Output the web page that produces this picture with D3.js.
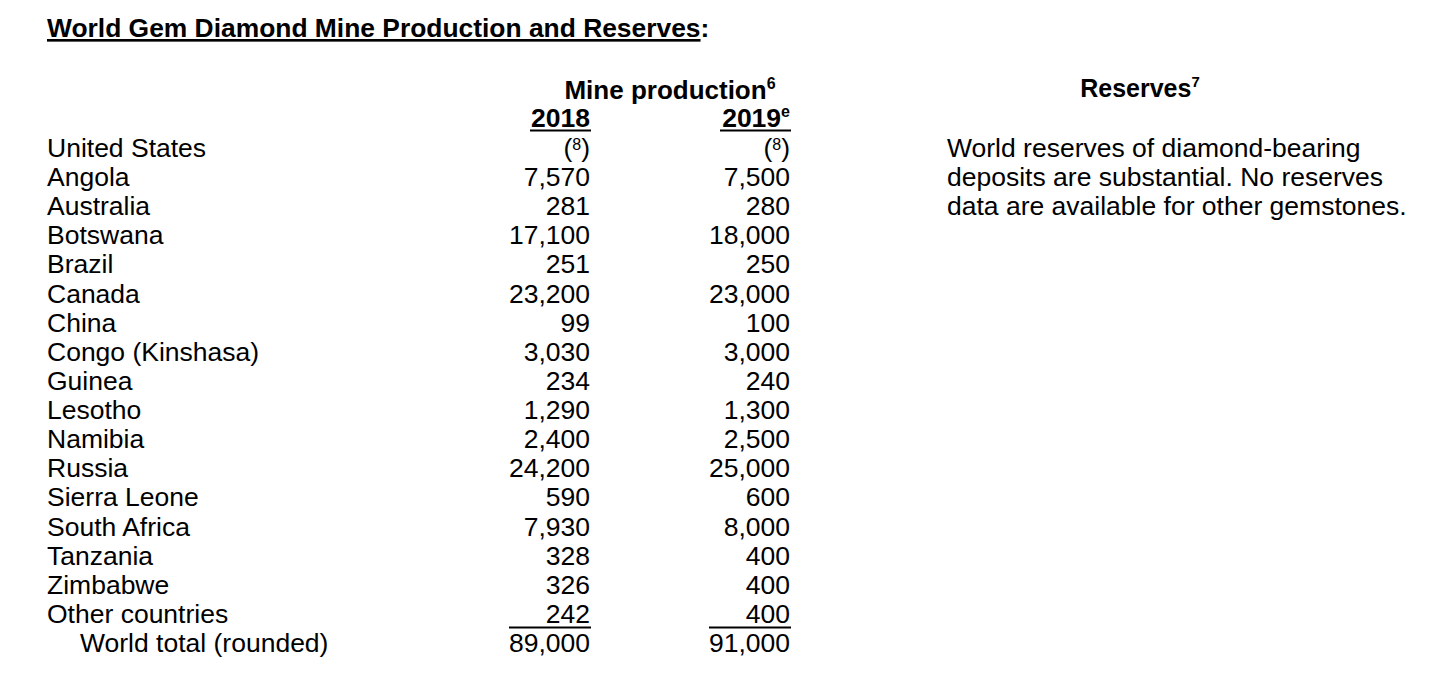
<!DOCTYPE html>
<html>
<head>
<meta charset="utf-8">
<script src="https://cdn.jsdelivr.net/npm/d3@7"></script>
<style>
  body { margin: 0; background: #fff; }
  text { font-family: "Liberation Sans", Arial, sans-serif; fill: #000; }
</style>
</head>
<body>
<div id="table"></div>
<script>
// table data
var countries = ["United States", "Angola", "Australia", "Botswana", "Brazil", "Canada", "China",
  "Congo (Kinshasa)", "Guinea", "Lesotho", "Namibia", "Russia", "Sierra Leone", "South Africa",
  "Tanzania", "Zimbabwe", "Other countries"];
// null = footnote (8), less than 1/2 unit
var prod2018 = [null, 7570, 281, 17100, 251, 23200, 99, 3030, 234, 1290, 2400, 24200, 590, 7930, 328, 326, 242];
var prod2019 = [null, 7500, 280, 18000, 250, 23000, 100, 3000, 240, 1300, 2500, 25000, 600, 8000, 400, 400, 400];
var totals = [89000, 91000];
var years = ["2018", "2019"];
var reservesText = ["World reserves of diamond-bearing",
  "deposits are substantial. No reserves",
  "data are available for other gemstones."];

var width = 1446, height = 686;
var fmt = d3.format(",");
var fs = "26.5px";

var svg = d3.select("#table").append("svg")
  .attr("width", width)
  .attr("height", height);

// rows: countries plus world total line
var rows = countries.concat(["World total (rounded)"]);
var y = d3.scalePoint().domain(rows).range([157, 652]);

// columns are right aligned
var x = d3.scaleOrdinal().domain(years).range([590, 790]);

// title
var title = svg.append("text")
  .attr("x", 47).attr("y", 37)
  .style("font-size", "26.4px").style("font-weight", "bold");
title.append("tspan").style("text-decoration", "underline")
  .text("World Gem Diamond Mine Production and Reserves");
title.append("tspan").text(":");

// header
var hdr = svg.append("text")
  .attr("x", 670).attr("y", 99)
  .attr("text-anchor", "middle")
  .style("font-size", "26px").style("font-weight", "bold");
hdr.append("tspan").text("Mine production");
hdr.append("tspan").attr("dy", -10).style("font-size", "16px").text("6");

years.forEach(function(yr, i) {
  var t = svg.append("text")
    .attr("x", x(yr)).attr("y", 127)
    .attr("text-anchor", "end")
    .style("font-size", "26.5px").style("font-weight", "bold");
  t.append("tspan").text(yr);
  if (i === 1) t.append("tspan").attr("dy", -10).style("font-size", "16px").text("e");
  svg.append("line")
    .attr("x1", x(yr) - (i === 1 ? 70 : 60)).attr("x2", x(yr) + 1)
    .attr("y1", 130.5).attr("y2", 130.5)
    .attr("stroke", "#000").attr("stroke-width", 2);
});

var res = svg.append("text")
  .attr("x", 1140).attr("y", 97)
  .attr("text-anchor", "middle")
  .style("font-size", "25px").style("font-weight", "bold");
res.append("tspan").text("Reserves");
res.append("tspan").attr("dy", -10).style("font-size", "15px").text("7");

// country labels
svg.selectAll(".label")
  .data(rows)
  .enter().append("text")
  .attr("class", "label")
  .attr("x", function(d, i) { return i === rows.length - 1 ? 80 : 47; })
  .attr("y", function(d) { return y(d); })
  .style("font-size", fs)
  .text(function(d) { return d; });

// value columns
[prod2018, prod2019].forEach(function(vals, j) {
  var col = svg.selectAll(".col" + j)
    .data(vals.concat([totals[j]]))
    .enter().append("text")
    .attr("class", "col" + j)
    .attr("x", x(years[j]))
    .attr("y", function(d, i) { return y(rows[i]); })
    .attr("text-anchor", "end")
    .style("font-size", fs);
  col.each(function(d) {
    var t = d3.select(this);
    if (d === null) {
      t.append("tspan").text("(");
      t.append("tspan").attr("dy", -7).style("font-size", "16px").text("8");
      t.append("tspan").attr("dy", 7).text(")");
    } else {
      t.text(fmt(d));
    }
  });
  // total rule
  svg.append("line")
    .attr("x1", x(years[j]) - 81).attr("x2", x(years[j]) + 1)
    .attr("y1", y("Other countries") + 4.5).attr("y2", y("Other countries") + 4.5)
    .attr("stroke", "#000").attr("stroke-width", 2);
});

// reserves text
svg.selectAll(".res")
  .data(reservesText)
  .enter().append("text")
  .attr("class", "res")
  .attr("x", 947)
  .attr("y", function(d, i) { return y(rows[i]); })
  .style("font-size", fs)
  .text(function(d) { return d; });
</script>
</body>
</html>
